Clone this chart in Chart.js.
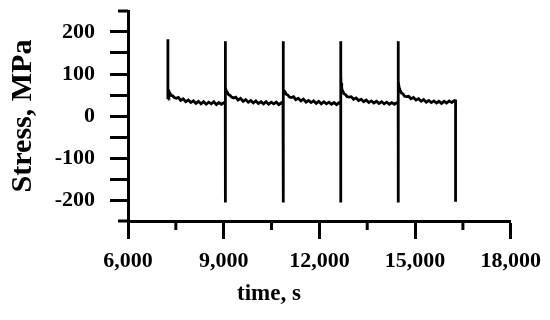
<!DOCTYPE html>
<html>
<head>
<meta charset="utf-8">
<script src="https://cdn.jsdelivr.net/npm/chart.js@4/dist/chart.umd.min.js"></script>
<style>
    body { margin: 0; background: #fff; }
    #box { width: 550px; height: 320px; }
</style>
</head>
<body>
<div id="box"><canvas id="graficoTensao"></canvas></div>
<script>
// tempo (s) e tensao (MPa)
const time = [
    7250, 7250, 7252, 7260, 7280, 7310, 7350, 7400, 7450, 7510, 7580, 7650, 7730, 7810, 7890, 7970, 8050, 8130, 8210, 8290, 8370, 8450, 8530, 8610, 8690, 8770, 8850, 8930, 9010, 9050,
    9050, 9050, 9052, 9060, 9080, 9110, 9150, 9200, 9250, 9310, 9380, 9450, 9530, 9610, 9690, 9770, 9850, 9930, 10010, 10090, 10170, 10250, 10330, 10410, 10490, 10570, 10650, 10730, 10810, 10860,
    10860, 10860, 10862, 10870, 10890, 10920, 10960, 11010, 11060, 11120, 11190, 11260, 11340, 11420, 11500, 11580, 11660, 11740, 11820, 11900, 11980, 12060, 12140, 12220, 12300, 12380, 12460, 12540, 12620, 12670,
    12670, 12670, 12672, 12680, 12700, 12730, 12770, 12820, 12870, 12930, 13000, 13070, 13150, 13230, 13310, 13390, 13470, 13550, 13630, 13710, 13790, 13870, 13950, 14030, 14110, 14190, 14270, 14350, 14430, 14470,
    14470, 14470, 14472, 14480, 14500, 14530, 14570, 14620, 14670, 14730, 14800, 14870, 14950, 15030, 15110, 15190, 15270, 15350, 15430, 15510, 15590, 15670, 15750, 15830, 15910, 15990, 16070, 16150, 16230, 16270, 16270
];
const stress = [
    40, 183, 66, 62, 57, 55, 49, 48, 44, 42, 44, 37, 41, 34, 38, 32, 36, 30, 35, 29, 34, 28, 33, 29, 34, 27, 32, 28, 32, 30,
    -206, 178, 75, 68, 60, 57, 51, 49, 45, 43, 45, 38, 42, 35, 39, 33, 37, 31, 36, 30, 34, 29, 34, 28, 33, 29, 33, 27, 32, 30,
    -206, 178, 83, 72, 62, 58, 52, 50, 45, 44, 46, 39, 42, 36, 40, 33, 37, 32, 36, 30, 35, 29, 34, 29, 33, 28, 32, 27, 32, 30,
    -206, 178, 95, 78, 65, 60, 53, 51, 46, 45, 46, 40, 43, 37, 40, 34, 38, 32, 36, 31, 35, 30, 34, 29, 33, 28, 32, 28, 32, 30,
    -206, 178, 99, 82, 68, 62, 55, 53, 47, 46, 47, 41, 44, 38, 41, 35, 39, 33, 37, 32, 36, 31, 35, 30, 35, 31, 36, 32, 37, 36, -204
];

const xMajorTicks = [6000, 9000, 12000, 15000, 18000];
const xMinorTicks = [7500, 10500, 13500, 16500];
const yTicks = [-250, -200, -150, -100, -50, 0, 50, 100, 150, 200, 250];
const yLabelTicks = [-200, -100, 0, 100, 200];
const yEndTicks = [-250, 250];

const xTitle = 'time, s';
const yTitle = 'Stress, MPa';

const fonte = 'Liberation Serif, Times New Roman, serif';

// ticks menores do eixo x, pontas do eixo y e titulo do eixo x
const eixosExtras = {
    id: 'eixosExtras',
    afterDraw(chart) {
        const ctx = chart.ctx;
        const x = chart.scales.x;
        const y = chart.scales.y;
        ctx.save();
        ctx.strokeStyle = '#000';
        ctx.lineWidth = 3;
        ctx.beginPath();
        xMinorTicks.forEach(v => {
            const px = x.getPixelForValue(v);
            ctx.moveTo(px, x.top);
            ctx.lineTo(px, x.top + 9);
        });
        yEndTicks.forEach(v => {
            const py = y.getPixelForValue(v);
            ctx.moveTo(y.right, py);
            ctx.lineTo(y.right - 10, py);
        });
        ctx.stroke();

        ctx.fillStyle = '#000';
        ctx.font = 'bold 23px ' + fonte;
        ctx.textAlign = 'center';
        ctx.textBaseline = 'alphabetic';
        ctx.fillText(xTitle, x.left + 141, x.top + 79);
        ctx.restore();
    }
};

const ctxTensao = document.getElementById('graficoTensao').getContext('2d');

new Chart(ctxTensao, {
    type: 'line',
    data: {
        datasets: [{
            label: 'Stress',
            data: time.map((t, i) => ({ x: t, y: stress[i] })),
            borderColor: '#000',
            borderWidth: 2.8,
            pointRadius: 0,
            tension: 0,
            fill: false
        }]
    },
    options: {
        responsive: true,
        maintainAspectRatio: false,
        animation: false,
        layout: {
            padding: { top: 11, right: 39, bottom: 0, left: 0 }
        },
        plugins: {
            legend: { display: false },
            tooltip: { enabled: false }
        },
        scales: {
            x: {
                type: 'linear',
                min: 6000,
                max: 18000,
                afterBuildTicks: scale => {
                    scale.ticks = xMajorTicks.map(v => ({ value: v }));
                },
                afterFit: scale => {
                    scale.height = 99;
                },
                border: { display: true, color: '#000', width: 3 },
                grid: {
                    drawOnChartArea: false,
                    tickLength: 18,
                    tickWidth: 3,
                    tickColor: '#000'
                },
                ticks: {
                    color: '#000',
                    padding: 9,
                    maxRotation: 0,
                    autoSkip: false,
                    font: { family: fonte, size: 22, weight: 'bold' },
                    callback: v => v.toLocaleString('en-US')
                }
            },
            y: {
                min: -250,
                max: 250,
                afterBuildTicks: scale => {
                    scale.ticks = yTicks.map(v => ({ value: v }));
                },
                afterFit: scale => {
                    scale.width = 128;
                    scale.paddingTop = 0;
                    scale.paddingBottom = 0;
                },
                border: { display: true, color: '#000', width: 3 },
                grid: {
                    drawOnChartArea: false,
                    tickLength: 18,
                    tickWidth: 3,
                    tickColor: c => yEndTicks.includes(c.tick.value) ? 'rgba(0,0,0,0)' : '#000'
                },
                ticks: {
                    color: '#000',
                    padding: 15,
                    autoSkip: false,
                    font: { family: fonte, size: 22, weight: 'bold' },
                    callback: v => yLabelTicks.includes(v) ? String(v) : ''
                },
                title: {
                    display: true,
                    text: yTitle,
                    color: '#000',
                    padding: { top: 5, bottom: 0 },
                    font: { family: fonte, size: 30, weight: 'bold' }
                }
            }
        }
    },
    plugins: [eixosExtras]
});
</script>
</body>
</html>
